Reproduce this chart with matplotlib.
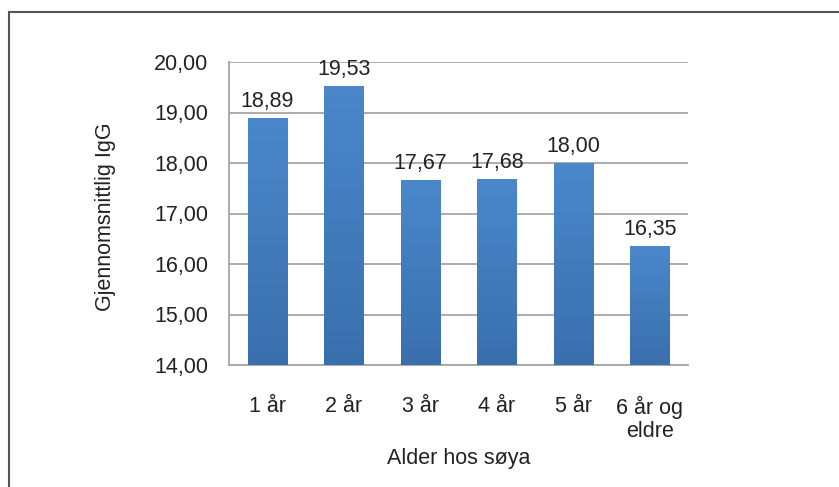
import matplotlib.pyplot as plt
import numpy as np
from matplotlib.lines import Line2D
from matplotlib.colors import LinearSegmentedColormap

plt.rcParams['font.family'] = ['Liberation Sans', 'DejaVu Sans']

# mean IgG per age group of the sow
ages = ['1 år', '2 år', '3 år', '4 år', '5 år', '6 år og\neldre']
igg = [18.89, 19.53, 17.67, 17.68, 18.00, 16.35]
yticks = [14, 15, 16, 17, 18, 19, 20]

W, H = 839, 487
fig = plt.figure(figsize=(W/100, H/100), dpi=100)
ax = fig.add_axes([229/W, 1-365/H, 459/W, 303/H])

x = np.arange(len(ages))
bars = ax.bar(x, igg, width=0.51, bottom=0, color='#3f7dc1', zorder=2)

# vertical gradient inside each bar
cmap = LinearSegmentedColormap.from_list('bar', ['#3a6fae', '#4a88cb'])
grad = np.linspace(0, 1, 256).reshape(-1, 1)
for b in bars:
    x0 = b.get_x()
    x1 = x0 + b.get_width()
    img = ax.imshow(grad, extent=[x0, x1, 14, b.get_height()], origin='lower',
                    aspect='auto', cmap=cmap, zorder=3)
    img.set_clip_path(b)

for xi, v in zip(x, igg):
    ax.annotate(f'{v:.2f}'.replace('.', ','), (xi, v), xytext=(0, 8),
                textcoords='offset points', ha='center', va='baseline',
                fontsize=15.5, color='#222222', zorder=4)

ax.set_xlim(-0.5, len(ages)-0.5)
ax.set_ylim(14, 20)
ax.set_yticks(yticks)
ax.set_yticklabels([f'{t:.2f}'.replace('.', ',') for t in yticks])
ax.set_xticks(x)
ax.set_xticklabels(ages, linespacing=1.15)
ax.tick_params(axis='y', length=0, pad=15, labelsize=15.5, labelcolor='#222222')
ax.tick_params(axis='x', length=0, pad=22, labelsize=15.5, labelcolor='#222222')

ax.grid(axis='y', color='#a6a6a6', linewidth=1.3, zorder=1)
ax.set_axisbelow(True)
for s in ['top', 'right']:
    ax.spines[s].set_visible(False)
for s in ['left', 'bottom']:
    ax.spines[s].set_color('#a6a6a6')
    ax.spines[s].set_linewidth(1.3)

ax.set_ylabel('Gjennomsnittlig IgG', fontsize=15.5, color='#222222')
ax.yaxis.set_label_coords(-0.247, 0.49)
ax.set_xlabel('Alder hos søya', fontsize=15.5, color='#222222')
ax.xaxis.set_label_coords(0.5, -0.275)

# frame lines along the top and left edge
fig.add_artist(Line2D([8.5/W, 8.5/W], [0, 1-12/H], color='#555555', linewidth=1.5))
fig.add_artist(Line2D([8.5/W, 1], [1-12/H, 1-12/H], color='#555555', linewidth=1.5))

plt.savefig('out.png', dpi=100)
